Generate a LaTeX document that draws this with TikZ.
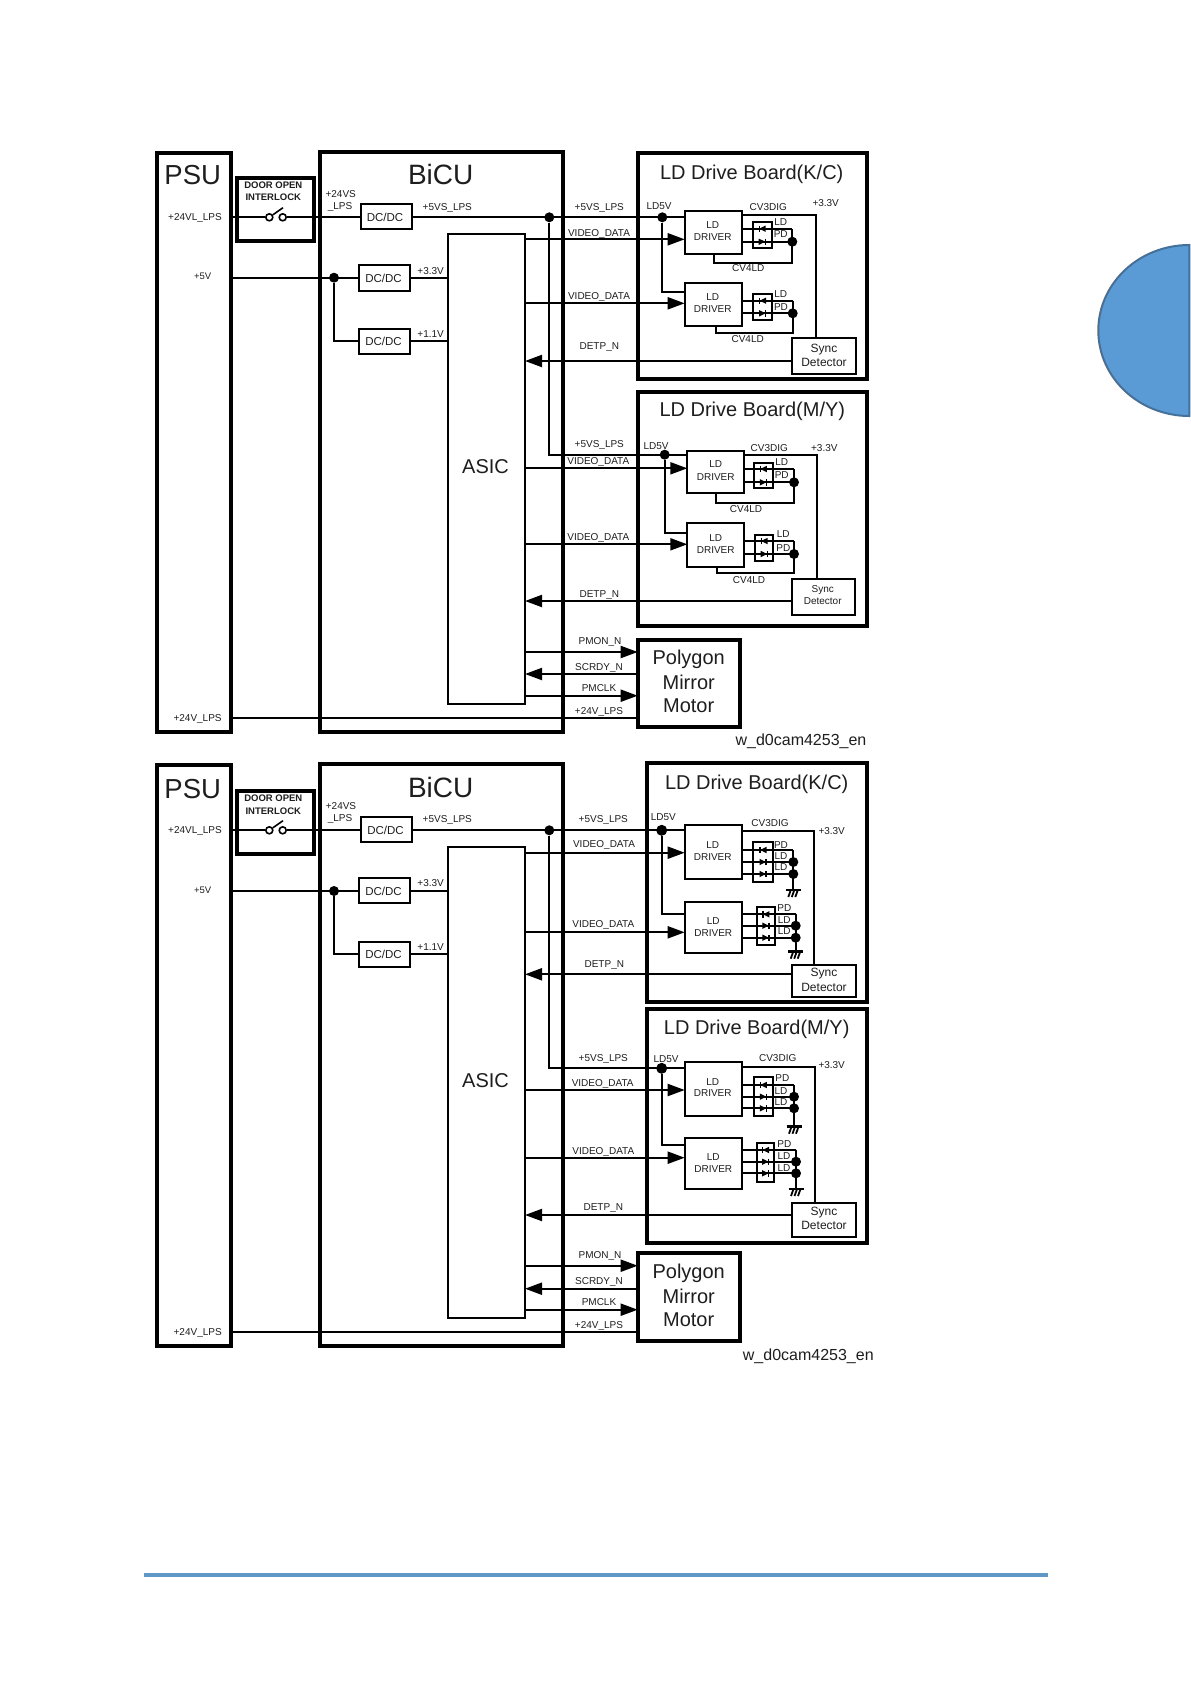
\documentclass[tikz,border=0pt]{standalone}
\usepackage{fontspec}
\setmainfont{Liberation Sans}
\usetikzlibrary{arrows.meta}
\definecolor{txt}{HTML}{1E1E1E}
\definecolor{blu}{HTML}{5B9BD5}
\definecolor{blued}{HTML}{41719C}
\definecolor{rulec}{HTML}{5F97C6}
\newcount\lbn
\newcommand\tlab[4][10]{\global\advance\lbn by 1
  \node[lab,font=\fontsize{#1}{#1}\selectfont,yshift={-.36*#1pt}] (t\the\lbn) at (#2,#3) {#4};}
\newcommand\mybox[6]{% style name x1 y1 x2 y2
  \pgfmathsetmacro\bw{#5-#3}\pgfmathsetmacro\bh{#6-#4}
  \pgfmathsetmacro\bx{(#3+#5)/2}\pgfmathsetmacro\by{(#4+#6)/2}
  \node[#1,minimum width=\bw pt,minimum height=\bh pt] (#2) at (\bx,\by) {};}
\newcommand\hwire[4][]{\coordinate (tmpy) at (0,#4);
  \draw[wire,#1] (#2 |- tmpy) -- (#3 |- tmpy);}
\newcommand\diod[3]{\begin{scope}[shift={(#1,#2)},xscale=#3]
  \fill[black] (-3.5,-3.2) -- (3,0) -- (-3.5,3.2) -- cycle;
  \draw[line width=1.3pt] (3,-3.2) -- (3,3.2);\end{scope}}
\newcommand\grnd[2]{\begin{scope}[shift={(#1,#2)}]
  \draw[line width=2.5pt] (-7.5,0) -- (7.5,0);
  \draw[line width=1.8pt] (-2.5,0) -- (-5,7) (1,0) -- (-1.5,7) (4.5,0) -- (2,7);\end{scope}}
% drv L T R B y1 y2 X
\newcommand\twodio[8]{\mybox{thin}{#1dio}{#2}{#3}{#4}{#5}
  \coordinate (#1a) at (#8,#6); \coordinate (#1b) at (#8,#7);
  \draw[wire] (#1.east |- #1a) -- (#1a);
  \draw[wire] (#1.east |- #1b) -- (#1b);
  \node[dot] (#1dot) at (#1b) {};
  \pgfmathsetmacro\mx{(#2+#4)/2}\diod{\mx}{#6}{-1}\diod{\mx}{#7}{1}}
\newcommand\loopb[3]{\coordinate (#1c) at (#3,#2);
  \draw[wire] (#1a) -- (#1a |- #1c) -- (#1c) -- (#1c |- #1.south);}
% drv L T R B y1 y2 y3 X
\newcommand\threedio[9]{\mybox{thin}{#1dio}{#2}{#3}{#4}{#5}
  \coordinate (#1a) at (#9,#6); \coordinate (#1b) at (#9,#7); \coordinate (#1e) at (#9,#8);
  \draw[wire] (#1.east |- #1a) -- (#1a);
  \draw[wire] (#1.east |- #1b) -- (#1b);
  \draw[wire] (#1.east |- #1e) -- (#1e);
  \node[dot] (#1dot) at (#1b) {}; \node[dot] (#1dott) at (#1e) {};
  \pgfmathsetmacro\mx{(#2+#4)/2}\diod{\mx}{#6}{-1}\diod{\mx}{#7}{1}\diod{\mx}{#8}{1}}
\newcommand\gndw[3]{\coordinate (#1g) at (#3,#2);
  \draw[wire] (#1a) -- (#1g); \grnd{#3}{#2}}
\begin{document}
\begin{tikzpicture}[x=1pt,y=-1pt,
  lab/.style={anchor=base,inner sep=0pt,outer sep=0pt,text=txt},
  heavy/.style={draw=black,line width=4pt,inner sep=0pt,outer sep=0pt},
  thin/.style={draw=black,line width=2pt,inner sep=0pt,outer sep=0pt},
  wire/.style={draw=black,line width=2pt},
  arr/.style={-{Triangle[length=17pt,width=12pt]}},
  dot/.style={circle,fill=black,inner sep=0pt,minimum size=10pt},
  bigdot/.style={circle,fill=black,inner sep=0pt,minimum size=11pt},
  swc/.style={circle,draw=black,line width=1.6pt,fill=white,inner sep=0pt,minimum size=7pt}]
\path[use as bounding box,fill=white] (0,0) rectangle (1191,1684);
% decoration
\path[fill=blu,draw=blued,line width=2pt] (1189.3,245) .. controls (1139,245) and (1098.3,283.3) .. (1098.3,330.5)
  .. controls (1098.3,377.7) and (1139,416) .. (1189.3,416) -- cycle;
\coordinate (ruleL) at (144,1575); \coordinate (ruleR) at (1048,1575);
\draw[rulec,line width=4pt] (ruleL) -- (ruleR);

%%%%%%%%%%%%% TOP DIAGRAM
\mybox{heavy}{psuA}{156.5}{152.7}{230.7}{731.7}
\mybox{heavy}{intA}{236.7}{178}{314}{241}
\mybox{heavy}{bicuA}{320.3}{151.7}{563.3}{731.7}
\mybox{thin}{dc1A}{360.7}{204}{411.7}{229.3}
\mybox{thin}{dc2A}{359.3}{265}{410}{290.7}
\mybox{thin}{dc3A}{359.3}{328.7}{410}{354}
\mybox{thin}{asicA}{447.7}{234}{525}{704}
\mybox{heavy}{kcA}{638.3}{152.7}{866.7}{379.3}
\mybox{heavy}{myA}{638.3}{391.7}{866.7}{626}
\mybox{heavy}{polyA}{637.7}{640}{740}{727.3}
\mybox{thin}{d1A}{684.7}{211}{741.7}{254}
\mybox{thin}{d2A}{684.7}{282.7}{741.7}{325.7}
\mybox{thin}{d3A}{687.3}{450.7}{744.3}{493.3}
\mybox{thin}{d4A}{687.3}{523.3}{744.3}{566.7}
\mybox{thin}{s1A}{792.3}{337.7}{855.7}{374}
\mybox{thin}{s2A}{791.7}{579}{855}{615}
% switch and power
\node[swc] (swlA) at (269.3,217.3) {};
\node[swc] (swrA) at (282.7,217.3) {};
\coordinate (levA) at (283,207.7);
\draw[line width=1.6pt] (swlA) -- (levA);
\hwire{psuA.east}{swlA.west}{217.3}
\hwire{swrA.east}{dc1A.west}{217.3}
\node[dot,minimum size=10pt] (n5A) at (549.3,217.3) {};
\node[dot] (ld1A) at (662.3,217.3) {};
\node[dot] (ld2A) at (664.7,454.7) {};
\hwire{dc1A.east}{d1A.west}{217.3}
\coordinate (b1A) at (549.3,454.7);
\draw[wire] (n5A) -- (b1A) -- (d3A.west |- b1A);
\coordinate (b2A) at (662.3,292.3);
\draw[wire] (ld1A) -- (b2A) -- (d2A.west |- b2A);
\coordinate (b3A) at (664.7,533.3);
\draw[wire] (ld2A) -- (b3A) -- (d4A.west |- b3A);
\node[dot,minimum size=10pt] (n3A) at (334,277.7) {};
\hwire{psuA.east}{dc2A.west}{277.7}
\coordinate (b4A) at (334,341.3);
\draw[wire] (n3A) -- (b4A) -- (dc3A.west |- b4A);
\hwire{dc2A.east}{asicA.west}{277.7}
\hwire{dc3A.east}{asicA.west}{341.3}
% signals
\hwire[arr]{asicA.east}{d1A.west}{239.3}
\hwire[arr]{asicA.east}{d2A.west}{303.3}
\hwire[arr]{asicA.east}{d3A.west}{468.3}
\hwire[arr]{asicA.east}{d4A.west}{544.3}
\hwire[arr]{s1A.west}{asicA.east}{361}
\hwire[arr]{s2A.west}{asicA.east}{601}
\hwire[arr]{asicA.east}{polyA.west}{652}
\hwire[arr]{polyA.west}{asicA.east}{674}
\hwire[arr]{asicA.east}{polyA.west}{695.7}
\hwire{psuA.east}{polyA.west}{718.3}
% CV3DIG
\coordinate (c1A) at (815.7,215);
\draw[wire] (d1A.east |- c1A) -- (c1A) -- (c1A |- s1A.north);
\coordinate (c2A) at (817.3,455);
\draw[wire] (d3A.east |- c2A) -- (c2A) -- (c2A |- s2A.north);
% diodes
\twodio{d1A}{752.7}{222.3}{771.7}{247.7}{228.7}{241.7}{792.3}
\loopb{d1A}{262.7}{714.3}
\twodio{d2A}{753.3}{294.3}{772}{320}{300.7}{313.3}{792.7}
\loopb{d2A}{332.7}{716}
\twodio{d3A}{754}{462.7}{772.7}{488.3}{469}{482.3}{794}
\loopb{d3A}{503.3}{716}
\twodio{d4A}{755}{535}{773.3}{560.7}{541}{554}{794}
\loopb{d4A}{573.3}{717.3}
% text
\tlab[27.5]{192.7}{175}{PSU}
\tlab[28]{440.7}{174.7}{BiCU}
\tlab[9.5]{273.3}{185}{\bfseries DOOR OPEN}
\tlab[9.5]{273.3}{197.3}{\bfseries INTERLOCK}
\tlab[10]{195}{217}{+24VL\_LPS}
\tlab[9.5]{202.7}{276}{+5V}
\tlab[10]{340.7}{194}{+24VS}
\tlab[10]{340}{205.7}{\_LPS}
\tlab[10]{447.3}{207.3}{+5VS\_LPS}
\tlab[11.5]{385}{217}{DC/DC}
\tlab[11.5]{383.5}{278}{DC/DC}
\tlab[11.5]{383.5}{341.5}{DC/DC}
\tlab[10]{430.7}{271}{+3.3V}
\tlab[10]{430.7}{334}{+1.1V}
\tlab[20]{485.5}{466}{ASIC}
\tlab[10]{197.6}{717.6}{+24V\_LPS}
\tlab[20]{751.7}{172.3}{LD Drive Board(K/C)}
\tlab[20]{752.3}{409.3}{LD Drive Board(M/Y)}
\tlab{599.3}{207.3}{+5VS\_LPS}
\tlab{659}{206}{LD5V}
\tlab{599}{232.7}{VIDEO\_DATA}
\tlab{599}{296}{VIDEO\_DATA}
\tlab{599.3}{346}{DETP\_N}
\tlab{768.3}{207}{CV3DIG}
\tlab{825.7}{203.3}{+3.3V}
\tlab{712.7}{225}{LD}
\tlab{712.7}{237}{DRIVER}
\tlab{712.7}{297.3}{LD}
\tlab{712.7}{309}{DRIVER}
\tlab{780.7}{222.3}{LD}
\tlab{780.7}{234.3}{PD}
\tlab{780.7}{294}{LD}
\tlab{781}{307.3}{PD}
\tlab{748.3}{268.3}{CV4LD}
\tlab{747.7}{339}{CV4LD}
\tlab[12]{824}{347.7}{Sync}
\tlab[12]{824}{361.7}{Detector}
\tlab{599.3}{444.3}{+5VS\_LPS}
\tlab{656}{445.7}{LD5V}
\tlab{598.3}{461}{VIDEO\_DATA}
\tlab{598.3}{536.7}{VIDEO\_DATA}
\tlab{599.3}{594}{DETP\_N}
\tlab{769.3}{447.7}{CV3DIG}
\tlab{824.3}{448}{+3.3V}
\tlab{715.7}{464.3}{LD}
\tlab{715.7}{476.7}{DRIVER}
\tlab{715.7}{537.7}{LD}
\tlab{715.7}{549.7}{DRIVER}
\tlab{781.7}{462}{LD}
\tlab{781.7}{475.3}{PD}
\tlab{783.3}{534.3}{LD}
\tlab{783.3}{547.7}{PD}
\tlab{746}{508.7}{CV4LD}
\tlab{749}{580}{CV4LD}
\tlab[10]{822.7}{589}{Sync}
\tlab[10]{822.7}{601}{Detector}
\tlab{600}{640.7}{PMON\_N}
\tlab{599}{667.3}{SCRDY\_N}
\tlab{599}{688.3}{PMCLK}
\tlab{599}{710.7}{+24V\_LPS}
\tlab[20]{688.7}{657}{Polygon}
\tlab[20]{688.7}{682}{Mirror}
\tlab[20]{688.7}{705.3}{Motor}
\tlab[16]{801}{740}{w\_d0cam4253\_en}

%%%%%%%%%%%%% BOTTOM DIAGRAM
\mybox{heavy}{psuB}{156.5}{765}{230.7}{1345.7}
\mybox{heavy}{intB}{236.7}{790.7}{314}{854.3}
\mybox{heavy}{bicuB}{320.3}{764.3}{563.3}{1345.7}
\mybox{thin}{dc1B}{361}{816.7}{412.3}{842.3}
\mybox{thin}{dc2B}{359.3}{877.7}{410}{903.3}
\mybox{thin}{dc3B}{359.3}{941.7}{410}{967.3}
\mybox{thin}{asicB}{448.3}{846.7}{525}{1318.3}
\mybox{heavy}{kcB}{647.3}{762.7}{866.7}{1001.7}
\mybox{heavy}{myB}{646.7}{1009.3}{866.7}{1243.3}
\mybox{heavy}{polyB}{637.7}{1253.3}{740}{1340.7}
\mybox{thin}{d1B}{684.7}{825}{741.7}{879.3}
\mybox{thin}{d2B}{684.7}{902.3}{741.7}{953.3}
\mybox{thin}{d3B}{684.7}{1061.7}{741.7}{1115.7}
\mybox{thin}{d4B}{684.7}{1138.3}{741.7}{1189.3}
\mybox{thin}{s1B}{791.7}{964.7}{855.7}{997.3}
\mybox{thin}{s2B}{791.7}{1203.3}{855.7}{1236.7}
\node[swc] (swlB) at (269.3,830.3) {};
\node[swc] (swrB) at (282.7,830.3) {};
\coordinate (levB) at (283,820.7);
\draw[line width=1.6pt] (swlB) -- (levB);
\hwire{psuB.east}{swlB.west}{830.3}
\hwire{swrB.east}{dc1B.west}{830.3}
\node[dot,minimum size=10pt] (n5B) at (549.3,830.3) {};
\node[bigdot] (ld1B) at (661.7,830.3) {};
\node[bigdot] (ld2B) at (661.7,1068.3) {};
\hwire{dc1B.east}{d1B.west}{830.3}
\coordinate (b1B) at (549.3,1068.3);
\draw[wire] (n5B) -- (b1B) -- (d3B.west |- b1B);
\coordinate (b2B) at (661.7,914.3);
\draw[wire] (ld1B) -- (b2B) -- (d2B.west |- b2B);
\coordinate (b3B) at (661.7,1145);
\draw[wire] (ld2B) -- (b3B) -- (d4B.west |- b3B);
\node[dot,minimum size=10pt] (n3B) at (334,891) {};
\hwire{psuB.east}{dc2B.west}{891}
\coordinate (b4B) at (334,954);
\draw[wire] (n3B) -- (b4B) -- (dc3B.west |- b4B);
\hwire{dc2B.east}{asicB.west}{891}
\hwire{dc3B.east}{asicB.west}{954}
\hwire[arr]{asicB.east}{d1B.west}{852.7}
\hwire[arr]{asicB.east}{d2B.west}{932.3}
\hwire[arr]{asicB.east}{d3B.west}{1090}
\hwire[arr]{asicB.east}{d4B.west}{1157.7}
\hwire[arr]{s1B.west}{asicB.east}{974.3}
\hwire[arr]{s2B.west}{asicB.east}{1215}
\hwire[arr]{asicB.east}{polyB.west}{1265.7}
\hwire[arr]{polyB.west}{asicB.east}{1288.7}
\hwire[arr]{asicB.east}{polyB.west}{1309.7}
\hwire{psuB.east}{polyB.west}{1332.3}
\coordinate (c1B) at (814,831);
\draw[wire] (d1B.east |- c1B) -- (c1B) -- (c1B |- s1B.north);
\coordinate (c2B) at (815,1067);
\draw[wire] (d3B.east |- c2B) -- (c2B) -- (c2B |- s2B.north);
\threedio{d1B}{753.3}{842.3}{772.7}{881.7}{850}{862}{874}{793.3}
\gndw{d1B}{890}{793.3}
\threedio{d2B}{756.7}{906.7}{775}{945}{914.3}{925.7}{937.7}{795.7}
\gndw{d2B}{951.7}{795.7}
\threedio{d3B}{754}{1077.3}{772.7}{1115.7}{1085}{1096.7}{1108.3}{794}
\gndw{d3B}{1126.7}{794}
\threedio{d4B}{756.7}{1142.7}{774.3}{1181.7}{1150}{1161.7}{1173.3}{796}
\gndw{d4B}{1189}{796}
\tlab[27.5]{192.7}{788.3}{PSU}
\tlab[28]{440.7}{787.3}{BiCU}
\tlab[9.5]{273.3}{798.3}{\bfseries DOOR OPEN}
\tlab[9.5]{273.3}{810.7}{\bfseries INTERLOCK}
\tlab[10]{195}{829.7}{+24VL\_LPS}
\tlab[9.5]{202.7}{889.7}{+5V}
\tlab[10]{341}{806}{+24VS}
\tlab[10]{340}{818}{\_LPS}
\tlab[10]{447.3}{819.3}{+5VS\_LPS}
\tlab[11.5]{385.5}{830}{DC/DC}
\tlab[11.5]{383.5}{891}{DC/DC}
\tlab[11.5]{383.5}{954.5}{DC/DC}
\tlab[10]{430.7}{883.3}{+3.3V}
\tlab[10]{430.7}{946.7}{+1.1V}
\tlab[20]{485.5}{1080.4}{ASIC}
\tlab[10]{197.7}{1332.3}{+24V\_LPS}
\tlab[20]{756.7}{782.3}{LD Drive Board(K/C)}
\tlab[20]{756.7}{1027.3}{LD Drive Board(M/Y)}
\tlab{603.3}{819.3}{+5VS\_LPS}
\tlab{663.3}{816.7}{LD5V}
\tlab{604}{844}{VIDEO\_DATA}
\tlab{603.3}{924}{VIDEO\_DATA}
\tlab{604.3}{964}{DETP\_N}
\tlab{770}{822.7}{CV3DIG}
\tlab{831.7}{830.7}{+3.3V}
\tlab{712.7}{845}{LD}
\tlab{712.7}{857}{DRIVER}
\tlab{713.3}{920.7}{LD}
\tlab{713.3}{932.7}{DRIVER}
\tlab{781}{845}{PD}
\tlab{781}{855.7}{LD}
\tlab{781}{867.3}{LD}
\tlab{784.3}{908.3}{PD}
\tlab{784.3}{920}{LD}
\tlab{784.3}{931}{LD}
\tlab[12]{824}{972.3}{Sync}
\tlab[12]{824}{986.7}{Detector}
\tlab{603.3}{1058}{+5VS\_LPS}
\tlab{666}{1059.3}{LD5V}
\tlab{602.7}{1082.7}{VIDEO\_DATA}
\tlab{603.3}{1150.7}{VIDEO\_DATA}
\tlab{603.3}{1206.7}{DETP\_N}
\tlab{777.7}{1058}{CV3DIG}
\tlab{831.7}{1065.3}{+3.3V}
\tlab{712.7}{1081.7}{LD}
\tlab{712.7}{1092.7}{DRIVER}
\tlab{713.3}{1157.3}{LD}
\tlab{713.3}{1169}{DRIVER}
\tlab{782.3}{1078.3}{PD}
\tlab{781}{1090.7}{LD}
\tlab{781}{1101.7}{LD}
\tlab{784.3}{1144}{PD}
\tlab{784}{1156}{LD}
\tlab{784}{1167.7}{LD}
\tlab[12]{824}{1210.7}{Sync}
\tlab[12]{824}{1225}{Detector}
\tlab{600}{1254.7}{PMON\_N}
\tlab{599}{1281}{SCRDY\_N}
\tlab{599}{1302.3}{PMCLK}
\tlab{599}{1324.7}{+24V\_LPS}
\tlab[20]{688.7}{1271}{Polygon}
\tlab[20]{688.7}{1296}{Mirror}
\tlab[20]{688.7}{1319.3}{Motor}
\tlab[16]{808.3}{1354.3}{w\_d0cam4253\_en}
\end{tikzpicture}
\end{document}
